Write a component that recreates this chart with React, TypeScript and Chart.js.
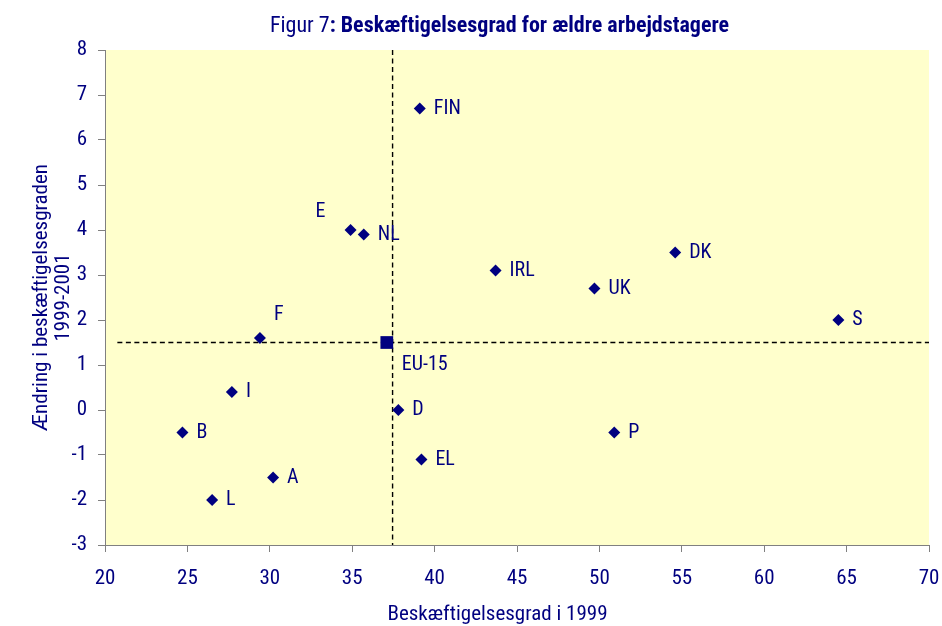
import { useEffect, useRef } from 'react';
import { Chart, registerables } from 'chart.js';

Chart.register(...registerables);

// ---- data ----
const countries = ['FIN', 'E', 'NL', 'IRL', 'DK', 'UK', 'S', 'F', 'I', 'D', 'B', 'P', 'EL', 'A', 'L'];
const rate1999 = [39.1, 34.9, 35.7, 43.7, 54.6, 49.7, 64.5, 29.4, 27.7, 37.8, 24.7, 50.9, 39.2, 30.2, 26.5];
const change1999to2001 = [6.7, 4.0, 3.9, 3.1, 3.5, 2.7, 2.0, 1.6, 0.4, 0.0, -0.5, -0.5, -1.1, -1.5, -2.0];
const euLabel = ['EU-15'];
const euRate = [37.1];
const euChange = [1.5];
const refVerticalX = [37.45, 37.45];
const refVerticalY = [8, -3];
const refHorizontalX = [20.75, 70];
const refHorizontalY = [1.5, 1.5];
const xRange = [20, 70];
const yRange = [-3, 8];

const titleNormal = 'Figur 7';
const titleBold = ': Beskæftigelsesgrad for ældre arbejdstagere';
const xTitle = 'Beskæftigelsesgrad i 1999';
const yTitle = ['Ændring i beskæftigelsesgraden', '1999-2001'];

// ---- styles ----
const NAVY = '#000080';
const FAMILY = 'Roboto, "Liberation Sans", Arial, sans-serif';
// weight field carries the font-stretch keyword so the condensed face is used
const COND = 'condensed';
const labelPlacement: Record<string, { dx: number; dy: number; align: CanvasTextAlign }> = {
  E: { dx: -30, dy: -18, align: 'center' },
  F: { dx: 19, dy: -23, align: 'center' },
  'EU-15': { dx: 15, dy: 22, align: 'left' },
};
const defaultPlacement = { dx: 14, dy: 0, align: 'left' as CanvasTextAlign };

const bgPlugin = {
  id: 'plotBg',
  beforeDraw(chart: any) {
    const { ctx, chartArea } = chart;
    ctx.save();
    ctx.fillStyle = '#FFFFCC';
    ctx.fillRect(chartArea.left, chartArea.top, chartArea.right - chartArea.left, chartArea.bottom - chartArea.top);
    ctx.restore();
  },
};

const labelsPlugin = {
  id: 'pointLabels',
  afterDatasetsDraw(chart: any) {
    const { ctx } = chart;
    ctx.save();
    ctx.fillStyle = NAVY;
    ctx.font = `condensed 20px ${FAMILY}`;
    ctx.textBaseline = 'middle';
    chart.data.datasets.forEach((ds: any, di: number) => {
      if (!ds.labelsList) return;
      const meta = chart.getDatasetMeta(di);
      meta.data.forEach((el: any, i: number) => {
        const name = ds.labelsList[i];
        const p = labelPlacement[name] || defaultPlacement;
        ctx.textAlign = p.align;
        ctx.fillText(name, el.x + p.dx, el.y + p.dy);
      });
    });
    ctx.restore();
  },
};

const titlePlugin = {
  id: 'mixedTitle',
  afterDraw(chart: any) {
    const { ctx } = chart;
    ctx.save();
    ctx.fillStyle = NAVY;
    ctx.textBaseline = 'alphabetic';
    ctx.textAlign = 'left';
    const fNormal = `condensed 22px ${FAMILY}`;
    const fBold = `bold condensed 22px ${FAMILY}`;
    ctx.font = fNormal;
    const w1 = ctx.measureText(titleNormal).width;
    ctx.font = fBold;
    const w2 = ctx.measureText(titleBold).width;
    const cx = 499.5;
    const x0 = cx - (w1 + w2) / 2;
    ctx.font = fNormal;
    ctx.fillText(titleNormal, x0, 31.5);
    ctx.font = fBold;
    ctx.fillText(titleBold, x0 + w1, 31.5);
    // x-axis title (offset left of plot centre, as in the original)
    ctx.font = `condensed 21px ${FAMILY}`;
    ctx.textAlign = 'center';
    ctx.fillText(xTitle, 497.5, 620);
    ctx.restore();
  },
};

export default function App() {
  const ref = useRef<HTMLCanvasElement>(null);
  useEffect(() => {
    document.body.style.margin = '0';
    const tickFont = { family: FAMILY, size: 21, weight: COND as any };
    const chart = new Chart(ref.current!, {
      type: 'scatter',
      data: {
        datasets: [
          {
            label: 'countries',
            data: countries.map((_, i) => ({ x: rate1999[i], y: change1999to2001[i] })),
            labelsList: countries,
            pointStyle: 'rectRot',
            pointRadius: 6,
            backgroundColor: NAVY,
            borderColor: NAVY,
            borderWidth: 0,
            order: 1,
          } as any,
          {
            label: 'eu',
            data: euLabel.map((_, i) => ({ x: euRate[i], y: euChange[i] })),
            labelsList: euLabel,
            pointStyle: 'rect',
            pointRadius: 9,
            backgroundColor: NAVY,
            borderColor: NAVY,
            borderWidth: 0,
            order: 0,
          } as any,
          {
            label: 'vline',
            data: refVerticalX.map((x, i) => ({ x, y: refVerticalY[i] })),
            showLine: true,
            pointRadius: 0,
            borderColor: '#000000',
            borderWidth: 1.4,
            borderDash: [5, 3.5],
            order: 2,
          } as any,
          {
            label: 'hline',
            data: refHorizontalX.map((x, i) => ({ x, y: refHorizontalY[i] })),
            showLine: true,
            pointRadius: 0,
            borderColor: '#000000',
            borderWidth: 1.4,
            borderDash: [5, 3.5],
            order: 2,
          } as any,
        ],
      },
      options: {
        animation: false,
        responsive: false,
        events: [],
        layout: { padding: { left: 0, top: 50, right: 13, bottom: 0 } },
        plugins: { legend: { display: false }, tooltip: { enabled: false }, title: { display: false } },
        scales: {
          x: {
            type: 'linear',
            min: xRange[0],
            max: xRange[1],
            ticks: { stepSize: 5, color: NAVY, font: tickFont, padding: 14 },
            grid: { drawOnChartArea: false, drawTicks: true, tickLength: 7, color: '#808080' },
            border: { color: '#808080', width: 1 },
            title: { display: false },
            afterFit(s: any) {
              s.height = 81;
              s.paddingLeft = 0;
              s.paddingRight = 0;
            },
          },
          y: {
            type: 'linear',
            min: yRange[0],
            max: yRange[1],
            ticks: { stepSize: 1, color: NAVY, font: tickFont, padding: 11 },
            grid: { drawOnChartArea: false, drawTicks: true, tickLength: 7, color: '#808080' },
            border: { color: '#808080', width: 1 },
            title: {
              display: true,
              text: yTitle,
              color: NAVY,
              font: { family: FAMILY, size: 21, weight: COND as any, lineHeight: 1.05 },
              padding: { top: 31, bottom: 0 },
            },
            afterFit(s: any) {
              s.width = 105;
              s.paddingTop = 0;
              s.paddingBottom = 0;
            },
          },
        },
      },
      plugins: [bgPlugin, labelsPlugin, titlePlugin],
    });
    return () => chart.destroy();
  }, []);
  return (
    <div style={{ width: 942, height: 626 }}>
      <canvas ref={ref} width={942} height={626} style={{ display: 'block' }} />
    </div>
  );
}
